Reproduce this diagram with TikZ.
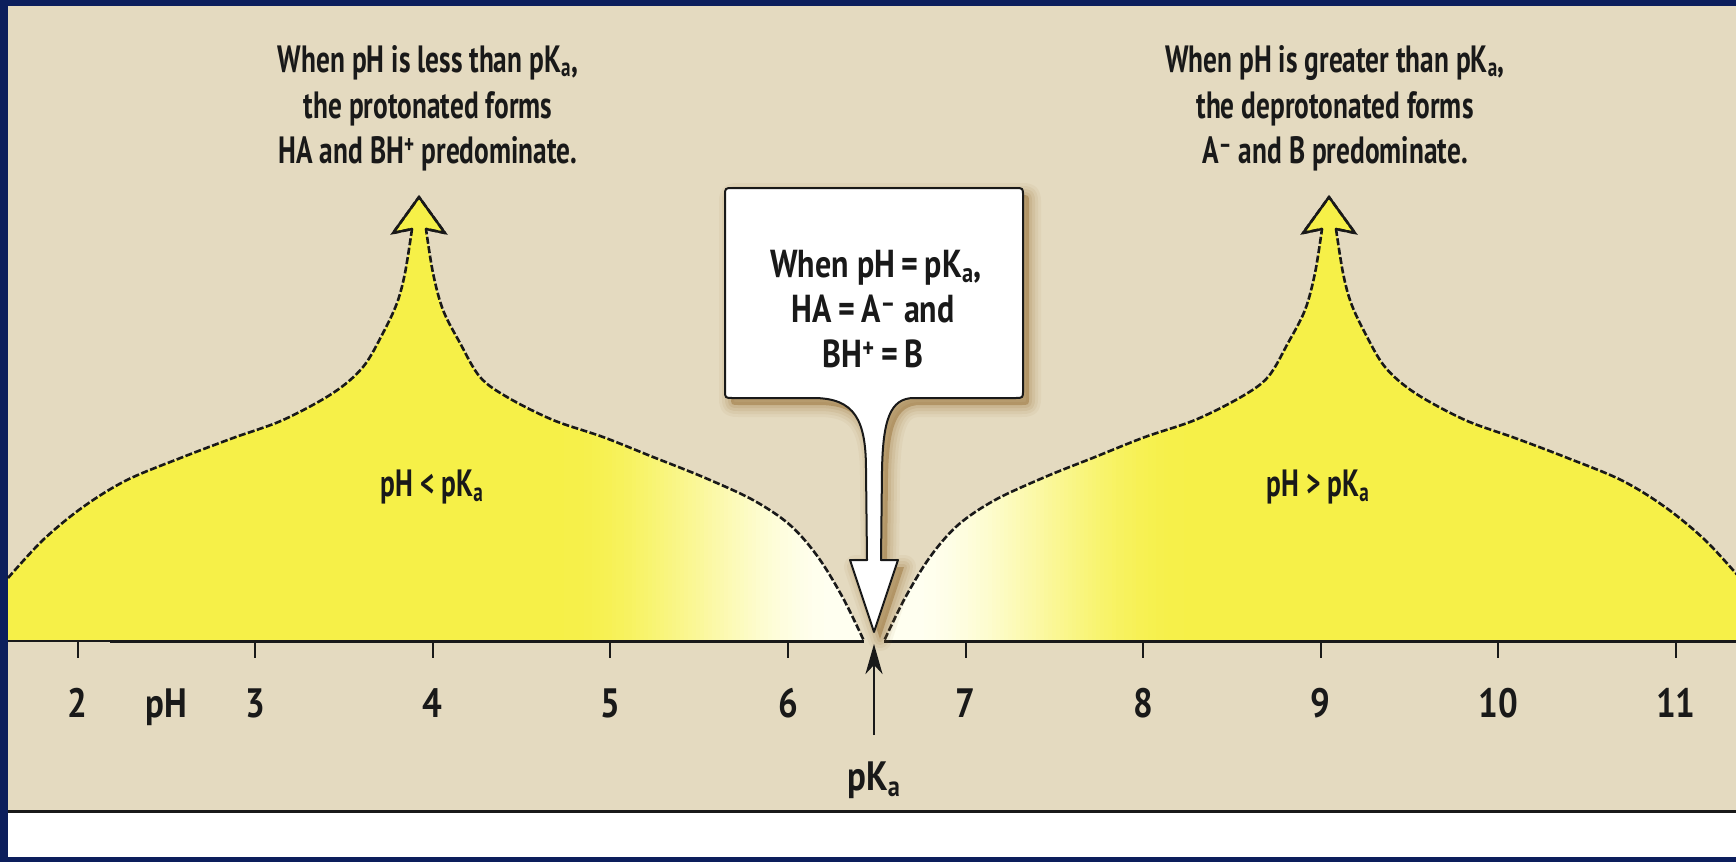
\documentclass[tikz,border=0pt]{standalone}
\usepackage{fontspec}
\setmainfont{PT Sans}[FakeStretch=0.72]
\newfontfamily\boxfont{PT Sans}[FakeStretch=0.82]
\newfontfamily\numfont{PT Sans}[FakeStretch=0.85]
\usetikzlibrary{arrows.meta}
\definecolor{navy}{RGB}{12,30,92}
\definecolor{beige}{RGB}{228,218,192}
\definecolor{lemon}{RGB}{246,240,72}
\definecolor{cream}{RGB}{255,255,240}
\definecolor{shadowc}{RGB}{150,110,50}
\definecolor{ink}{RGB}{25,25,25}
\newcommand\calloutpath{(912,398) -- (1015,398) .. controls (1023,398) .. (1023,390) -- (1023,196) .. controls (1023,188) .. (1015,188) -- (733,188) .. controls (725,188) .. (725,196) -- (725,390) .. controls (725,398) .. (733,398) -- (813,398) .. controls (855,398) and (866,420) .. (866,470) -- (867,560) -- (850,560) -- (874,632) -- (898,560) -- (881,560) -- (882,470) .. controls (883,420) and (890,398) .. (914,398) -- cycle}
\newcommand\lobeleft{plot[smooth,tension=0.55] coordinates {(8,578) (43,540) (83,507) (127,480) (183,457) (233,438) (283,420) (333,393) (363,367) (383,333) (397,303) (405,273) (412,229)} -- (393,233) -- (419,197) -- (445,233) -- plot[smooth,tension=0.55] coordinates {(426,229) (433,273) (443,310) (460,343) (480,377) (507,397) (553,420) (603,437) (653,457) (703,477) (753,500) (790,525) (818,557) (843,598) (864,641)}}
\newcommand\drawlobe{%
  \begin{scope}
    \clip \lobeleft -- (8,641) -- cycle;
    \fill[lemon] (0,150) rectangle (562,645);
    \foreach \i [evaluate=\i as \pct using {int(100*(1-(3*(\i/70)^2-2*(\i/70)^3)))}] in {0,...,70}
      {\fill[lemon!\pct!cream] ({560+4*\i},150) rectangle ++(4.6,495);}
    \fill[cream] (840,150) rectangle (900,645);
  \end{scope}
  \draw[lobeline] \lobeleft;
  \draw[ink, line width=2.4pt, line join=miter] (412,229) -- (393,233) -- (419,197) -- (445,233) -- (426,229);
}
\begin{document}
\begin{tikzpicture}[x=1pt,y=-1pt,
  txt/.style={font=\bfseries\fontsize{38}{46}\selectfont, text=ink, anchor=base, inner sep=0pt},
  boxtxt/.style={font=\boxfont\bfseries\fontsize{39}{46}\selectfont, text=ink, anchor=base, inner sep=0pt},
  numlbl/.style={font=\numfont\bfseries\fontsize{41}{46}\selectfont, text=ink, anchor=base, inner sep=0pt},
  lobeline/.style={draw=ink, line width=2.6pt, dash pattern=on 7pt off 2.5pt, line join=round},
  tickmark/.style={draw=ink, line width=2pt},
  axisline/.style={draw=ink, line width=3pt},
  callout/.style={fill=white, draw=ink, line width=2pt, line join=round}]
\useasboundingbox (0,0) rectangle (1736,862);
% background
\fill[navy] (0,0) rectangle (1736,862);
\fill[beige] (8,6) rectangle (1736,812);
\fill[white] (8,812) rectangle (1736,857);
\draw[ink, line width=3pt] (8,811) -- (1736,811);
% lobes
\drawlobe
\begin{scope}[xshift=1748pt, xscale=-1]
  \drawlobe
\end{scope}
% axis
\draw[ink, line width=1.2pt] (8,641) -- (110,641);
\draw[axisline] (110,641) -- (864,641);
\draw[axisline] (884,641) -- (1736,641);
\foreach \p in {2,...,11}{
  \draw[tickmark] ({77.5+177.6*(\p-2)},641) -- ++(0,17);
  \node[numlbl] (t\p) at ({77.5+177.6*(\p-2)},717) {\p};
}
\node[numlbl] (phl) at (166,717) {pH};
% callout shadow
\begin{scope}[shift={(6,7)}]
  \foreach \w/\o in {24/0.06,18/0.08,12/0.1,6/0.12}
    {\draw[draw=shadowc, draw opacity=\o, line width=\w pt, line join=round] \calloutpath;}
  \fill[shadowc, opacity=0.45] \calloutpath;
\end{scope}
\draw[callout] \calloutpath;
% texts
\node[txt] (lt1) at (428,72) {When pH is less than pK\textsubscript{a},};
\node[txt] (lt2) at (428,118) {the protonated forms};
\node[txt] (lt3) at (428,163) {HA and BH\textsuperscript{+} predominate.};
\node[txt] (rt1) at (1335,72) {When pH is greater than pK\textsubscript{a},};
\node[txt] (rt2) at (1335,118) {the deprotonated forms};
\node[txt] (rt3) at (1335,163) {A\textsuperscript{–} and B predominate.};
\node[boxtxt] (bx1) at (876,277) {When pH\,=\,pK\textsubscript{a},};
\node[boxtxt] (bx2) at (873,322) {HA\,=\,A\textsuperscript{–} and};
\node[boxtxt] (bx3) at (873,367) {BH\textsuperscript{+}\,=\,B};
\node[txt] (ltl) at (432,496) {pH < pK\textsubscript{a}};
\node[txt] (gtl) at (1318,496) {pH > pK\textsubscript{a}};
\node[numlbl] (pka) at (874,790) {pK\textsubscript{a}};
\coordinate (pkabase) at (874,735);
\coordinate (pkatip) at (874,644);
\draw[ink, line width=2.8pt, -{Stealth[length=30pt,width=17pt,inset=9pt]}] (pkabase) -- (pkatip);
\end{tikzpicture}
\end{document}
